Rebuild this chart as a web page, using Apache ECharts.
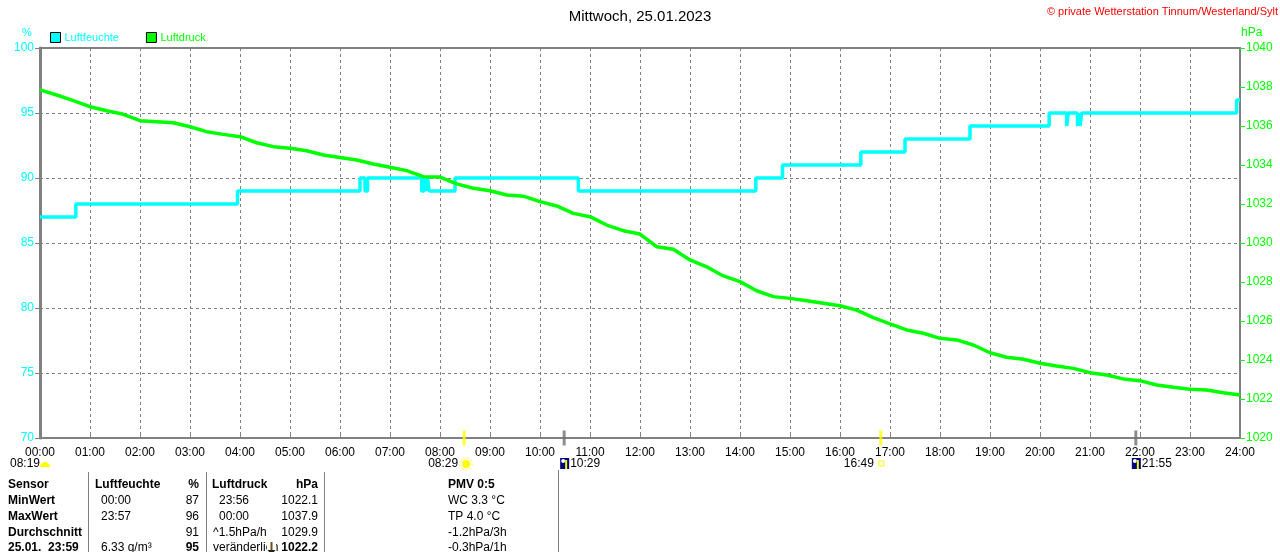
<!DOCTYPE html>
<html><head><meta charset="utf-8">
<script src="https://cdn.jsdelivr.net/npm/echarts@6/dist/echarts.min.js"></script>
<style>html,body{margin:0;padding:0;background:#fff}#c{width:1280px;height:552px}</style>
</head><body><div id="c"></div>
<script>
const chartTitle = 'Mittwoch, 25.01.2023';
const copyright = '© private Wetterstation Tinnum/Westerland/Sylt';
const hourTicks = ['00:00','01:00','02:00','03:00','04:00','05:00','06:00','07:00','08:00','09:00','10:00','11:00','12:00',
  '13:00','14:00','15:00','16:00','17:00','18:00','19:00','20:00','21:00','22:00','23:00','24:00'];
const humTicks = [70, 75, 80, 85, 90, 95, 100];
const pressTicks = [1020, 1022, 1024, 1026, 1028, 1030, 1032, 1034, 1036, 1038, 1040];

// Luftdruck (hPa), one reading every 20 minutes from 00:00 to 24:00
const pressureStep = 20;
const pressureValues = [
  1037.85,1037.59,1037.30,1036.99,1036.78,1036.60,1036.27,1036.22,1036.17,1035.96,1035.71,1035.57,
  1035.45,1035.14,1034.94,1034.86,1034.73,1034.51,1034.39,1034.26,1034.05,1033.88,1033.71,1033.40,
  1033.38,1033.03,1032.81,1032.68,1032.46,1032.40,1032.12,1031.90,1031.52,1031.35,1030.92,1030.63,
  1030.46,1029.81,1029.68,1029.13,1028.78,1028.31,1028.02,1027.55,1027.25,1027.16,1027.04,1026.91,
  1026.78,1026.56,1026.17,1025.85,1025.54,1025.37,1025.11,1025.03,1024.77,1024.37,1024.14,1024.04,
  1023.83,1023.69,1023.57,1023.35,1023.23,1023.03,1022.94,1022.72,1022.60,1022.50,1022.46,1022.32,1022.21];

// Luftfeuchte (%) change points
const humTimes = ['00:00','00:43','03:57','06:24','06:30','06:33','07:38','07:41','07:43','07:45','07:47','08:18',
  '10:46','14:19','14:51','16:25','17:18','18:36','20:11','20:32','20:34','20:45','20:47','20:48','20:50','23:56','24:00'];
const humValues = [87,88,89,90,89,90,89,90,89,90,89,90,89,90,91,92,93,94,95,94,95,94,95,94,95,96,96];

// sun / moon events
const eventTimes = ['08:29','10:29','16:49','21:55'];
const eventKinds = ['sunrise','moonrise','sunset','moonset'];
const dayLength = '08:19';

// statistics table
const colSensor = ['Sensor','MinWert','MaxWert','Durchschnitt','25.01.  23:59'];
const colHumTime = ['Luftfeuchte','00:00','23:57','','6.33 g/m³'];
const colHumVal = ['%','87','96','91','95'];
const colPressTime = ['Luftdruck','23:56','00:00','^1.5hPa/h','veränderlich'];
const colPressVal = ['hPa','1022.1','1037.9','1029.9','1022.2'];
const colPmv = ['PMV 0:5','WC 3.3 °C','TP 4.0 °C','-1.2hPa/3h','-0.3hPa/1h'];

const toMin = s => { const p = s.split(':'); return +p[0] * 60 + +p[1]; };
const CYAN = '#00ffff', GREEN = '#00ff00', GRAY = '#808080';
const FONT = 'Liberation Sans, Arial, sans-serif';

const pressureData = pressureValues.map((v, i) => [i * pressureStep, v]);
const humData = humTimes.map((t, i) => [toMin(t), humValues[i]]);
const eventData = eventTimes.map((t, i) => ({
  value: [toMin(t), humTicks[0]],
  itemStyle: { color: eventKinds[i].startsWith('sun') ? '#ffff00' : '#707070' }
}));

const chart = echarts.init(document.getElementById('c'));
chart.setOption({
  animation: false,
  backgroundColor: '#fff',
  textStyle: { fontFamily: FONT },
  title: { text: chartTitle, left: 'center', top: 4, textStyle: { fontSize: 15, fontWeight: 'normal', color: '#000', fontFamily: FONT } },
  legend: {
    left: 50, top: 32, itemWidth: 10, itemHeight: 10, itemGap: 27, padding: 0, icon: 'rect',
    itemStyle: { borderColor: '#000', borderWidth: 1 },
    textStyle: { fontSize: 11, fontFamily: FONT, padding: [0, 0, 0, -1] },
    data: [{ name: 'Luftfeuchte', textStyle: { color: CYAN } }, { name: 'Luftdruck', textStyle: { color: GREEN } }]
  },
  grid: { left: 40, right: 40, top: 48, bottom: 114, show: true, borderColor: GRAY, borderWidth: 2 },
  xAxis: {
    type: 'value', min: 0, max: 1440, interval: 60,
    axisLine: { lineStyle: { color: GRAY, width: 2 } },
    axisTick: { inside: true, length: 6, lineStyle: { color: GRAY } },
    axisLabel: { color: '#000', fontSize: 12, margin: 9, showMinLabel: true, showMaxLabel: true,
      formatter: v => hourTicks[Math.round(v / 60)] },
    splitLine: { show: true, lineStyle: { color: GRAY, type: [3, 3], width: 1 } }
  },
  yAxis: [{
    type: 'value', min: humTicks[0], max: humTicks[humTicks.length - 1], interval: 5, position: 'left',
    axisLine: { show: true, lineStyle: { color: GRAY, width: 3 } },
    axisTick: { show: true, length: 5, lineStyle: { color: GRAY } },
    axisLabel: { color: CYAN, fontSize: 12, margin: 6, formatter: v => String(v) },
    splitLine: { show: true, lineStyle: { color: GRAY, type: [3, 3], width: 1 } }
  }, {
    type: 'value', min: pressTicks[0], max: pressTicks[pressTicks.length - 1], interval: 2, position: 'right',
    axisLine: { show: true, lineStyle: { color: GRAY, width: 2 } },
    axisTick: { show: true, length: 5, lineStyle: { color: GREEN } },
    axisLabel: { color: GREEN, fontSize: 12, margin: 6, formatter: v => String(v) },
    splitLine: { show: false }
  }],
  series: [{
    name: 'Luftfeuchte', type: 'line', yAxisIndex: 0, step: 'end', data: humData, showSymbol: false,
    color: CYAN, lineStyle: { color: CYAN, width: 3.5 }, z: 3
  }, {
    name: 'Luftdruck', type: 'line', yAxisIndex: 1, data: pressureData, showSymbol: false,
    color: GREEN, lineStyle: { color: GREEN, width: 3.5 }, z: 4
  }, {
    name: 'events', type: 'scatter', yAxisIndex: 0, data: eventData, symbol: 'rect', symbolSize: [3, 15],
    clip: false, silent: true, z: 6
  }]
});

// decorations positioned from the axes
const graphics = [];
const t = (x, y, text, opt = {}) => graphics.push({
  type: 'text', x, y, silent: true, z: 10,
  style: Object.assign({ text, fill: '#000', font: '12px ' + FONT, textVerticalAlign: 'middle' }, opt)
});
graphics.push({ type: 'text', right: 2, top: 6, silent: true,
  style: { text: copyright, fill: '#ff0000', font: '11px ' + FONT } });
t(22, 33, '%', { fill: CYAN, font: '11px ' + FONT });
t(1241, 33, 'hPa', { fill: GREEN, font: '12px ' + FONT });

const yLabelRow = 464;
const x0 = chart.convertToPixel({ xAxisIndex: 0 }, 0);
t(x0 - 30, yLabelRow, dayLength);
graphics.push({ type: 'sector', silent: true, shape: { cx: x0 + 5, cy: yLabelRow + 3, r: 5, startAngle: Math.PI, endAngle: 2 * Math.PI },
  style: { fill: '#ffff00' } });

eventTimes.forEach((tm, i) => {
  const px = chart.convertToPixel({ xAxisIndex: 0 }, toMin(tm));
  const kind = eventKinds[i];
  if (kind === 'sunrise') {
    t(px - 6, yLabelRow, tm, { textAlign: 'right' });
    graphics.push({ type: 'circle', silent: true, shape: { cx: px + 2, cy: yLabelRow, r: 6 }, style: { fill: 'none', stroke: '#ffff99', lineWidth: 2, lineDash: [2, 2] } });
    graphics.push({ type: 'circle', silent: true, shape: { cx: px + 2, cy: yLabelRow, r: 4 }, style: { fill: '#ffff00' } });
  } else if (kind === 'sunset') {
    t(px - 7, yLabelRow, tm, { textAlign: 'right' });
    graphics.push({ type: 'rect', silent: true, shape: { x: px - 2, y: yLabelRow - 3, width: 5, height: 5 }, style: { fill: 'none', stroke: '#ffff00', lineWidth: 1 } });
  } else {
    graphics.push({ type: 'rect', silent: true, shape: { x: px - 4, y: yLabelRow - 6, width: 9, height: 11 }, style: { fill: '#000080' } });
    graphics.push({ type: 'circle', silent: true, shape: { cx: px - 1, cy: yLabelRow - 3, r: 2 }, style: { fill: '#ffffff' } });
    graphics.push({ type: 'line', silent: true, shape: { x1: px + 2, y1: yLabelRow - 4, x2: px + 2, y2: yLabelRow + 5 }, style: { stroke: '#ffff00', lineWidth: 2 } });
    t(px + 6, yLabelRow, tm, { textAlign: 'left' });
  }
});

// table
const rowY = [485, 501, 517, 533, 548];
[88, 206, 324].forEach(x => graphics.push({ type: 'line', silent: true, shape: { x1: x + 0.5, y1: 472, x2: x + 0.5, y2: 552 }, style: { stroke: GRAY, lineWidth: 1 } }));
graphics.push({ type: 'line', silent: true, shape: { x1: 558.5, y1: 470, x2: 558.5, y2: 552 }, style: { stroke: GRAY, lineWidth: 1 } });
const B = 'bold 12px ' + FONT, N = '12px ' + FONT;
rowY.forEach((y, r) => {
  const head = r === 0, last = r === 4;
  t(8, y, colSensor[r], { font: B });
  t(head ? 95 : 101, y, colHumTime[r], { font: head ? B : N });
  t(199, y, colHumVal[r], { font: head || last ? B : N, textAlign: 'right' });
  t(head ? 212 : (r <= 2 ? 219 : 213), y, colPressTime[r], { font: head ? B : N });
  t(318, y, colPressVal[r], { font: head || last ? B : N, textAlign: 'right' });
  t(448, y, colPmv[r], { font: head ? B : N });
});
// trend arrow icon over the end of "veränderlich"
graphics.push({ type: 'rect', silent: true, z: 11, shape: { x: 267, y: rowY[4] - 7, width: 9, height: 14 }, style: { fill: '#ffffff' } });
graphics.push({ type: 'line', silent: true, z: 12, shape: { x1: 271.5, y1: rowY[4] - 6, x2: 271.5, y2: rowY[4] + 3 }, style: { stroke: '#7a4a10', lineWidth: 2 } });
graphics.push({ type: 'polygon', silent: true, z: 12, shape: { points: [[267.5, rowY[4] + 2], [275.5, rowY[4] + 2], [271.5, rowY[4] + 7]] }, style: { fill: '#202020' } });

chart.setOption({ graphic: graphics });
</script>
</body></html>
